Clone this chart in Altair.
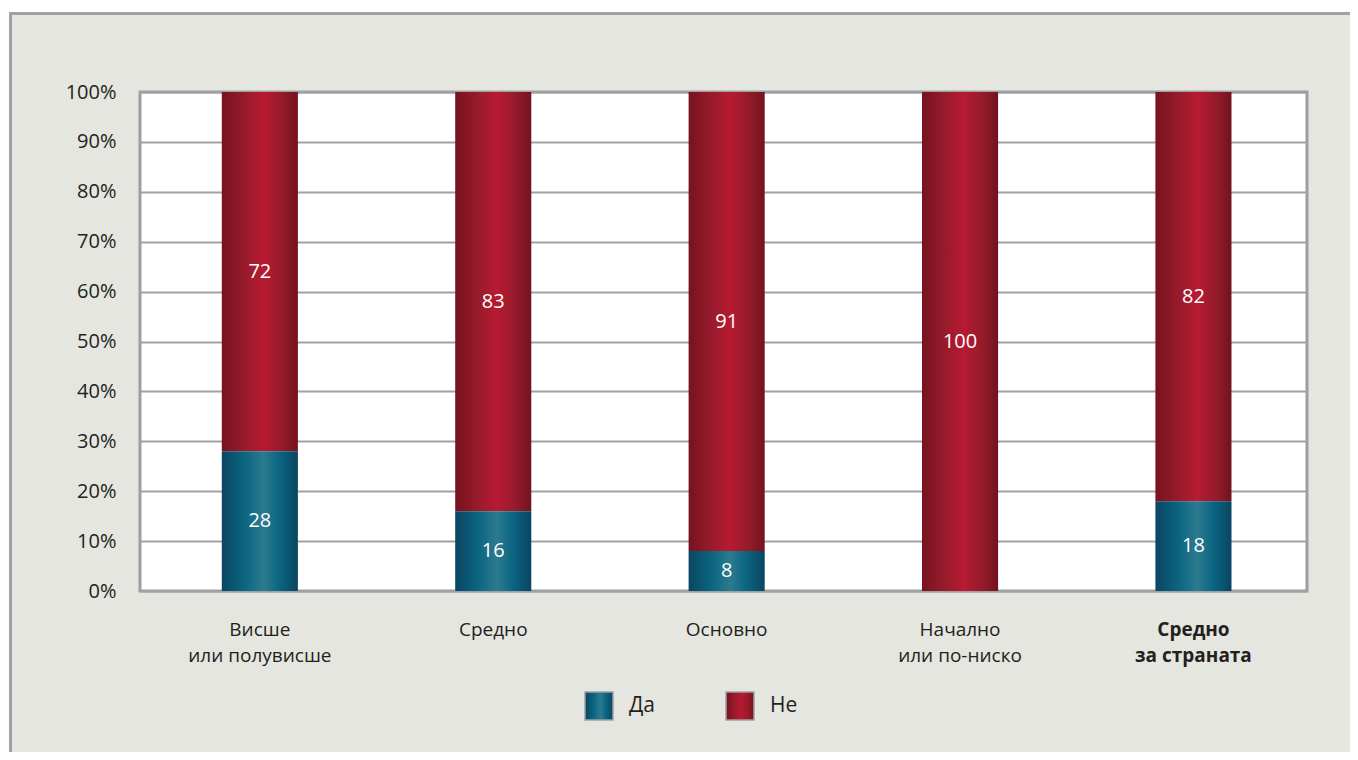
import altair as alt
import pandas as pd

categories = ["Висше\nили полувисше", "Средно", "Основно", "Начално\nили по-ниско", "Средно\nза страната"]
da_values = [28, 16, 8, 0, 18]
ne_values = [72, 83, 91, 100, 82]
y_ticks = [0, 10, 20, 30, 40, 50, 60, 70, 80, 90, 100]
legend_labels = ["Да", "Не"]

FONT = "Open Sans"
BG = "#e4e6df"
GRID = "#a0a1a5"

df = pd.DataFrame({"cat": categories, "da": da_values, "ne": ne_values})

red_grad = alt.LinearGradient(
    gradient="linear", x1=0, x2=1, y1=0, y2=0,
    stops=[
        alt.GradientStop(offset=0, color="#76131f"),
        alt.GradientStop(offset=0.3, color="#971b2b"),
        alt.GradientStop(offset=0.55, color="#b81a32"),
        alt.GradientStop(offset=0.8, color="#931b2a"),
        alt.GradientStop(offset=1, color="#74121f"),
    ],
)
teal_grad = alt.LinearGradient(
    gradient="linear", x1=0, x2=1, y1=0, y2=0,
    stops=[
        alt.GradientStop(offset=0, color="#0a4662"),
        alt.GradientStop(offset=0.3, color="#0b6580"),
        alt.GradientStop(offset=0.55, color="#2c7b8f"),
        alt.GradientStop(offset=0.75, color="#0b6682"),
        alt.GradientStop(offset=1, color="#094561"),
    ],
)

x_enc = alt.X(
    "cat:N",
    sort=categories,
    scale=alt.Scale(paddingInner=0.674, paddingOuter=0.337, align=0.52),
    axis=alt.Axis(
        title=None, labelAngle=0, domain=False, ticks=False, grid=False,
        labelExpr="split(datum.label, '\\n')",
        labelFont=FONT, labelFontSize=19, labelColor="#231f20",
        labelLineHeight=26, labelPadding=29, labelBaseline="top",
        labelFontWeight={"condition": {"test": "indexof(datum.value, 'страната') >= 0", "value": "bold"}, "value": "normal"},
    ),
)
y_scale = alt.Scale(domain=[0, 100], nice=False)
y_axis = alt.Axis(
    title=None, values=y_ticks, labelExpr="datum.value + '%'",
    domain=False, ticks=False, grid=True, gridColor=GRID, gridWidth=2,
    labelFont=FONT, labelFontSize=20, labelColor="#231f20", labelPadding=24,
)

base = alt.Chart(df).transform_calculate(
    top="100", zero="0", mid_da="datum.da / 2", mid_ne="(datum.da + 100) / 2"
)

bars_ne = base.mark_bar(color=red_grad).encode(
    x=x_enc, y=alt.Y("da:Q", scale=y_scale, axis=y_axis, stack=None), y2="top:Q"
)
bars_da = base.mark_bar(color=teal_grad).encode(
    x=x_enc, y=alt.Y("zero:Q", stack=None), y2="da:Q"
)
text_ne = base.mark_text(color="white", font=FONT, fontSize=20, baseline="middle").encode(
    x=x_enc, y=alt.Y("mid_ne:Q"), text="ne:Q"
)
text_da = base.transform_filter("datum.da > 0").mark_text(
    color="white", font=FONT, fontSize=20, baseline="middle"
).encode(x=x_enc, y=alt.Y("mid_da:Q"), text="da:Q")

one = alt.Data(values=[{}])

# decorative frame around the chart
white_top = alt.Chart(one).mark_rect(color="white").encode(
    x=alt.value(-140), x2=alt.value(1260), y=alt.value(-92), y2=alt.value(-80)
)
white_left = alt.Chart(one).mark_rect(color="white").encode(
    x=alt.value(-140), x2=alt.value(-131), y=alt.value(-92), y2=alt.value(700)
)
frame_top = alt.Chart(one).mark_rule(color=GRID, strokeWidth=3).encode(
    x=alt.value(-131), x2=alt.value(1260), y=alt.value(-78.5)
)
frame_left = alt.Chart(one).mark_rule(color=GRID, strokeWidth=3).encode(
    x=alt.value(-129.5), y=alt.value(-80), y2=alt.value(700)
)

# legend
leg_df = pd.DataFrame({"label": legend_labels})
leg_da = alt.Chart(one).mark_rect(color=teal_grad, stroke=GRID, strokeWidth=1.5).encode(
    x=alt.value(445), x2=alt.value(473), y=alt.value(600), y2=alt.value(628)
)
leg_ne = alt.Chart(one).mark_rect(color=red_grad, stroke=GRID, strokeWidth=1.5).encode(
    x=alt.value(586), x2=alt.value(614), y=alt.value(600), y2=alt.value(628)
)
leg_text = alt.Chart(leg_df).transform_calculate(
    px="datum.label == 'Да' ? 489 : 630"
).mark_text(font=FONT, fontSize=21, color="#231f20", align="left", baseline="middle").encode(
    x=alt.X("px:Q", scale=None), y=alt.value(614), text="label:N"
)

chart = alt.layer(
    white_top, white_left, frame_top, frame_left,
    bars_ne, bars_da, text_ne, text_da, leg_da, leg_ne, leg_text,
).properties(
    width=1167, height=499,
    autosize=alt.AutoSizeParams(type="none"),
    padding={"left": 132, "top": 84, "right": 43, "bottom": 161},
    background=BG,
).configure_view(
    fill="white", stroke="#9d9ea2", strokeWidth=3
)

chart.save("out.html", embed_options={"renderer": "svg", "actions": False})
